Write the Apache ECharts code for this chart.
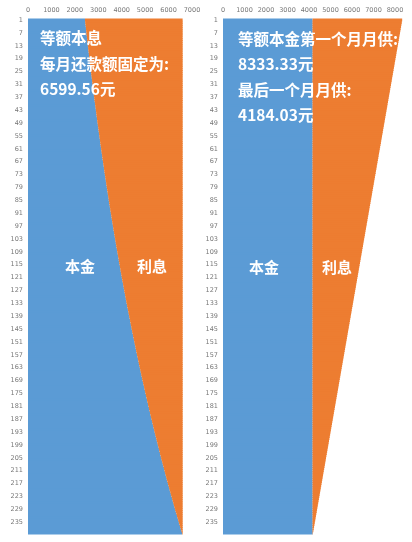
<!DOCTYPE html>
<html>
<head>
<meta charset="utf-8">
<script src="https://cdn.jsdelivr.net/npm/echarts@6/dist/echarts.min.js"></script>
<style>
  html, body { margin: 0; padding: 0; background: #fff; }
  #chart { width: 412px; height: 542px; }
</style>
</head>
<body>
<div id="chart"></div>
<script>
// months 1..240
var months = [
  1,2,3,4,5,6,7,8,9,10,11,12,13,14,15,16,17,18,19,20,21,22,23,24,
  25,26,27,28,29,30,31,32,33,34,35,36,37,38,39,40,41,42,43,44,45,46,47,48,
  49,50,51,52,53,54,55,56,57,58,59,60,61,62,63,64,65,66,67,68,69,70,71,72,
  73,74,75,76,77,78,79,80,81,82,83,84,85,86,87,88,89,90,91,92,93,94,95,96,
  97,98,99,100,101,102,103,104,105,106,107,108,109,110,111,112,113,114,115,116,117,118,119,120,
  121,122,123,124,125,126,127,128,129,130,131,132,133,134,135,136,137,138,139,140,141,142,143,144,
  145,146,147,148,149,150,151,152,153,154,155,156,157,158,159,160,161,162,163,164,165,166,167,168,
  169,170,171,172,173,174,175,176,177,178,179,180,181,182,183,184,185,186,187,188,189,190,191,192,
  193,194,195,196,197,198,199,200,201,202,203,204,205,206,207,208,209,210,211,212,213,214,215,216,
  217,218,219,220,221,222,223,224,225,226,227,228,229,230,231,232,233,234,235,236,237,238,239,240
];

// 等额本息: principal and interest per month
var annuityPrincipal = [
  2433,2443,2454,2464,2474,2485,2495,2505,2516,2526,2537,2547,
  2557,2568,2579,2590,2601,2612,2623,2634,2645,2655,2666,2677,
  2688,2700,2711,2723,2734,2746,2757,2768,2780,2791,2803,2814,
  2826,2838,2850,2862,2874,2886,2898,2910,2922,2934,2946,2958,
  2970,2983,2996,3008,3021,3034,3046,3059,3072,3084,3097,3110,
  3122,3136,3149,3162,3176,3189,3202,3215,3229,3242,3255,3269,
  3282,3296,3310,3324,3338,3352,3366,3380,3394,3408,3422,3436,
  3450,3465,3479,3494,3509,3523,3538,3553,3568,3582,3597,3612,
  3626,3642,3657,3673,3688,3704,3719,3735,3750,3766,3781,3797,
  3812,3828,3844,3861,3877,3893,3909,3926,3942,3958,3975,3991,
  4007,4024,4041,4058,4075,4092,4110,4127,4144,4161,4178,4195,
  4212,4230,4248,4266,4284,4302,4320,4338,4356,4374,4392,4410,
  4428,4446,4465,4484,4503,4522,4541,4560,4579,4597,4616,4635,
  4654,4674,4694,4714,4733,4753,4773,4793,4813,4833,4852,4872,
  4892,4913,4934,4955,4976,4996,5017,5038,5059,5080,5101,5122,
  5142,5164,5186,5208,5230,5252,5274,5296,5318,5340,5362,5384,
  5406,5429,5452,5475,5498,5521,5544,5567,5590,5613,5636,5659,
  5682,5706,5731,5755,5779,5803,5827,5852,5876,5900,5924,5949,
  5973,5998,6024,6049,6075,6100,6126,6151,6177,6202,6227,6253,
  6278,6305,6332,6359,6385,6412,6439,6466,6493,6519,6546,6573
];
var annuityInterest = [
  4167,4157,4146,4136,4126,4115,4105,4095,4084,4074,4063,4053,
  4043,4032,4021,4010,3999,3988,3977,3966,3955,3945,3934,3923,
  3912,3900,3889,3877,3866,3854,3843,3832,3820,3809,3797,3786,
  3774,3762,3750,3738,3726,3714,3702,3690,3678,3666,3654,3642,
  3630,3617,3604,3592,3579,3566,3554,3541,3528,3516,3503,3490,
  3478,3464,3451,3438,3424,3411,3398,3385,3371,3358,3345,3331,
  3318,3304,3290,3276,3262,3248,3234,3220,3206,3192,3178,3164,
  3150,3135,3121,3106,3091,3077,3062,3047,3032,3018,3003,2988,
  2974,2958,2943,2927,2912,2896,2881,2865,2850,2834,2819,2803,
  2788,2772,2756,2739,2723,2707,2691,2674,2658,2642,2625,2609,
  2593,2576,2559,2542,2525,2508,2490,2473,2456,2439,2422,2405,
  2388,2370,2352,2334,2316,2298,2280,2262,2244,2226,2208,2190,
  2172,2154,2135,2116,2097,2078,2059,2040,2021,2003,1984,1965,
  1946,1926,1906,1886,1867,1847,1827,1807,1787,1767,1748,1728,
  1708,1687,1666,1645,1624,1604,1583,1562,1541,1520,1499,1478,
  1458,1436,1414,1392,1370,1348,1326,1304,1282,1260,1238,1216,
  1194,1171,1148,1125,1102,1079,1056,1033,1010,987,964,941,
  918,894,869,845,821,797,773,748,724,700,676,651,
  627,602,576,551,525,500,474,449,423,398,373,347,
  322,295,268,241,215,188,161,134,107,81,54,27
];

// 等额本金: principal and interest per month
var linearPrincipal = [
  4167,4167,4167,4167,4167,4167,4167,4167,4167,4167,4167,4167,4167,4167,4167,4167,4167,4167,4167,4167,4167,4167,4167,4167,
  4167,4167,4167,4167,4167,4167,4167,4167,4167,4167,4167,4167,4167,4167,4167,4167,4167,4167,4167,4167,4167,4167,4167,4167,
  4167,4167,4167,4167,4167,4167,4167,4167,4167,4167,4167,4167,4167,4167,4167,4167,4167,4167,4167,4167,4167,4167,4167,4167,
  4167,4167,4167,4167,4167,4167,4167,4167,4167,4167,4167,4167,4167,4167,4167,4167,4167,4167,4167,4167,4167,4167,4167,4167,
  4167,4167,4167,4167,4167,4167,4167,4167,4167,4167,4167,4167,4167,4167,4167,4167,4167,4167,4167,4167,4167,4167,4167,4167,
  4167,4167,4167,4167,4167,4167,4167,4167,4167,4167,4167,4167,4167,4167,4167,4167,4167,4167,4167,4167,4167,4167,4167,4167,
  4167,4167,4167,4167,4167,4167,4167,4167,4167,4167,4167,4167,4167,4167,4167,4167,4167,4167,4167,4167,4167,4167,4167,4167,
  4167,4167,4167,4167,4167,4167,4167,4167,4167,4167,4167,4167,4167,4167,4167,4167,4167,4167,4167,4167,4167,4167,4167,4167,
  4167,4167,4167,4167,4167,4167,4167,4167,4167,4167,4167,4167,4167,4167,4167,4167,4167,4167,4167,4167,4167,4167,4167,4167,
  4167,4167,4167,4167,4167,4167,4167,4167,4167,4167,4167,4167,4167,4167,4167,4167,4167,4167,4167,4167,4167,4167,4167,4167
];
var linearInterest = [
  4167,4149,4132,4115,4097,4080,4063,4045,4028,4010,3993,3976,3958,3941,3924,3906,3889,3872,3854,3837,3819,3802,3785,3767,
  3750,3733,3715,3698,3681,3663,3646,3628,3611,3594,3576,3559,3542,3524,3507,3490,3472,3455,3438,3420,3403,3385,3368,3351,
  3333,3316,3299,3281,3264,3247,3229,3212,3194,3177,3160,3142,3125,3108,3090,3073,3056,3038,3021,3003,2986,2969,2951,2934,
  2917,2899,2882,2865,2847,2830,2813,2795,2778,2760,2743,2726,2708,2691,2674,2656,2639,2622,2604,2587,2569,2552,2535,2517,
  2500,2483,2465,2448,2431,2413,2396,2378,2361,2344,2326,2309,2292,2274,2257,2240,2222,2205,2188,2170,2153,2135,2118,2101,
  2083,2066,2049,2031,2014,1997,1979,1962,1944,1927,1910,1892,1875,1858,1840,1823,1806,1788,1771,1753,1736,1719,1701,1684,
  1667,1649,1632,1615,1597,1580,1563,1545,1528,1510,1493,1476,1458,1441,1424,1406,1389,1372,1354,1337,1319,1302,1285,1267,
  1250,1233,1215,1198,1181,1163,1146,1128,1111,1094,1076,1059,1042,1024,1007,990,972,955,938,920,903,885,868,851,
  833,816,799,781,764,747,729,712,694,677,660,642,625,608,590,573,556,538,521,503,486,469,451,434,
  417,399,382,365,347,330,313,295,278,260,243,226,208,191,174,156,139,122,104,87,69,52,35,17
];

var BLUE = '#5b9bd5';
var ORANGE = '#ed7d31';
var FONT = '"Noto Sans CJK SC", "Noto Sans", sans-serif';

var chart = echarts.init(document.getElementById('chart'));

function xAxisFor(idx, max) {
  return {
    gridIndex: idx,
    type: 'value',
    position: 'top',
    min: 0,
    max: max,
    interval: 1000,
    axisLine: { show: false },
    axisTick: { show: false },
    splitLine: { show: false },
    axisLabel: {
      fontSize: 6.5, color: '#777', margin: 5, fontFamily: 'DejaVu Sans',
      formatter: function (v) { return String(v) }
    }
  }
}

function yAxisFor(idx) {
  return {
    gridIndex: idx,
    type: 'category',
    inverse: true,
    data: months,
    axisLine: { show: false },
    axisTick: { show: false },
    axisLabel: { interval: 5, fontSize: 6.5, color: '#777', margin: 5, fontFamily: 'DejaVu Sans' }
  }
}

function barSeries(name, idx, stack, color, data) {
  return {
    name: name,
    type: 'bar',
    xAxisIndex: idx,
    yAxisIndex: idx,
    stack: stack,
    // rows are ~2.1px tall; a slightly wider bar overlaps its neighbours so no seams show
    barWidth: 3,
    clip: false,
    silent: true,
    itemStyle: { color: color },
    data: data
  }
}

function txt(x, y, s, size) {
  return {
    type: 'text',
    left: x,
    top: y,
    z: 100,
    style: {
      text: s,
      fill: '#fff',
      font: 'bold ' + size + 'px ' + FONT
    }
  }
}

chart.setOption({
  animation: false,
  grid: [
    { left: 28, top: 19, width: 164, height: 515 },
    { left: 223, top: 19, width: 172, height: 515 }
  ],
  xAxis: [xAxisFor(0, 7000), xAxisFor(1, 8000)],
  yAxis: [yAxisFor(0), yAxisFor(1)],
  series: [
    barSeries('本金', 0, 'a', BLUE, annuityPrincipal),
    barSeries('利息', 0, 'a', ORANGE, annuityInterest),
    barSeries('本金', 1, 'b', BLUE, linearPrincipal),
    barSeries('利息', 1, 'b', ORANGE, linearInterest)
  ],
  graphic: [
    txt(40, 30, '等额本息', 15.5),
    txt(40, 56, '每月还款额固定为:', 15.5),
    txt(40, 81, '6599.56元', 15.5),
    txt(65, 259, '本金', 15),
    txt(137, 259, '利息', 15),
    txt(238, 31, '等额本金第一个月月供:', 15.5),
    txt(238, 56, '8333.33元', 15.5),
    txt(238, 82, '最后一个月月供:', 15.5),
    txt(238, 107, '4184.03元', 15.5),
    txt(249, 260, '本金', 15),
    txt(322, 260, '利息', 15)
  ]
});
</script>
</body>
</html>
